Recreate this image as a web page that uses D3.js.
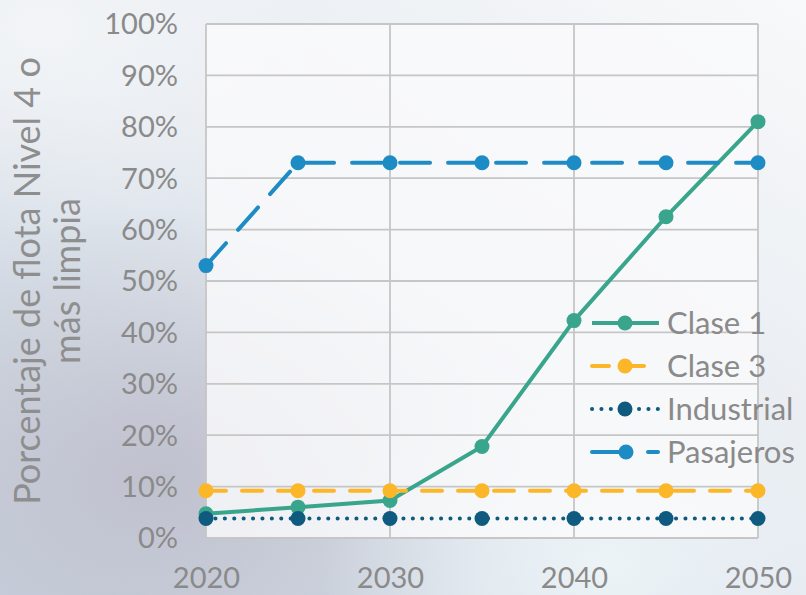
<!DOCTYPE html>
<html><head><meta charset="utf-8">
<script src="https://cdn.jsdelivr.net/npm/d3@7"></script>
<style>body{margin:0;overflow:hidden;}svg{display:block;}</style>
</head><body>
<svg id="c" width="806" height="595"></svg>
<script>
const years = [2020, 2025, 2030, 2035, 2040, 2045, 2050];
const clase1 = [4.7, 6, 7.3, 17.8, 42.3, 62.5, 81];
const clase3 = [9.2, 9.2, 9.2, 9.2, 9.2, 9.2, 9.2];
const industrial = [3.8, 3.8, 3.8, 3.8, 3.8, 3.8, 3.8];
const pasajeros = [53, 73, 73, 73, 73, 73, 73];
const seriesNames = ["Clase 1", "Clase 3", "Industrial", "Pasajeros"];
const yTicks = [0, 10, 20, 30, 40, 50, 60, 70, 80, 90, 100];
const xTicks = [2020, 2030, 2040, 2050];
const yTitle = ["Porcentaje de flota Nivel 4 o", "más limpia"];

const svg = d3.select("#c");
const defs = svg.append("defs");
const lg = defs.append("linearGradient").attr("id","bg").attr("x1","1").attr("y1","0").attr("x2","0.1").attr("y2","1");
lg.append("stop").attr("offset","0").attr("stop-color","#f8f9fa");
lg.append("stop").attr("offset","0.5").attr("stop-color","#e6ebf1");
lg.append("stop").attr("offset","1").attr("stop-color","#c9d2de");
const rg = defs.append("radialGradient").attr("id","bg2").attr("cx","0.2").attr("cy","0.8").attr("r","0.45");
rg.append("stop").attr("offset","0").attr("stop-color","#bdbecb").attr("stop-opacity","0.9");
rg.append("stop").attr("offset","1").attr("stop-color","#bdbecb").attr("stop-opacity","0");
const rg2 = defs.append("radialGradient").attr("id","bg3").attr("cx","0.75").attr("cy","0.95").attr("r","0.35");
rg2.append("stop").attr("offset","0").attr("stop-color","#eef5f8").attr("stop-opacity","0.9");
rg2.append("stop").attr("offset","1").attr("stop-color","#eef5f8").attr("stop-opacity","0");
const rg3 = defs.append("radialGradient").attr("id","bg4").attr("cx","0.05").attr("cy","0.05").attr("r","0.35");
rg3.append("stop").attr("offset","0").attr("stop-color","#f4f6f8").attr("stop-opacity","0.9");
rg3.append("stop").attr("offset","1").attr("stop-color","#f4f6f8").attr("stop-opacity","0");
svg.append("rect").attr("width",806).attr("height",595).attr("fill","url(#bg)");
svg.append("rect").attr("width",806).attr("height",595).attr("fill","url(#bg2)");
svg.append("rect").attr("width",806).attr("height",595).attr("fill","url(#bg3)");
svg.append("rect").attr("width",806).attr("height",595).attr("fill","url(#bg4)");

const x = d3.scaleLinear().domain([2020, 2050]).range([206, 758]);
const y = d3.scaleLinear().domain([0, 100]).range([538, 24]);

// plot area
svg.append("rect").attr("x", x(2020)).attr("y", y(100)).attr("width", x(2050)-x(2020)).attr("height", y(0)-y(100))
  .attr("fill", "#fafafb").attr("fill-opacity", 0.82);

const grid = svg.append("g").attr("stroke", "#c6c6c6").attr("stroke-width", 1.8);
grid.selectAll("line.h").data(yTicks).join("line").attr("class","h")
  .attr("x1", x(2020)).attr("x2", x(2050)).attr("y1", d=>y(d)).attr("y2", d=>y(d));
grid.selectAll("line.v").data(xTicks).join("line").attr("class","v")
  .attr("y1", y(0)).attr("y2", y(100)).attr("x1", d=>x(d)).attr("x2", d=>x(d));

const font = "Lato, 'Open Sans', sans-serif";
const axisColor = "#8a8a8a";
// y axis
const yAxis = d3.axisLeft(y).tickValues(yTicks).tickFormat(d=>d+"%").tickSize(0).tickPadding(0);
const ya = svg.append("g").attr("transform", "translate(178,0)").call(yAxis);
ya.select(".domain").remove();
ya.selectAll("text").attr("fill", axisColor).style("font-family", font).style("font-size", "29px").attr("dy","0.34em");
// x axis
const xAxis = d3.axisBottom(x).tickValues(xTicks).tickFormat(d3.format("d")).tickSize(0).tickPadding(0);
const xa = svg.append("g").attr("transform", "translate(0,588)").call(xAxis);
xa.select(".domain").remove();
xa.selectAll("text").attr("fill", axisColor).style("font-family", font).style("font-size", "29px").attr("dy","0");

// y title
const yt = svg.append("text").attr("transform", "translate(0,281) rotate(-90)")
  .attr("text-anchor","middle").attr("fill", "#8e8e8e").style("font-family", font).style("font-size", "36px");
yt.selectAll("tspan").data(yTitle).join("tspan").attr("x",0).attr("y",(d,i)=> i===0 ? 40 : 80).text(d=>d);

const series = [
  {name: seriesNames[0], values: clase1, color: "#39a58c", dash: null, w: 4},
  {name: seriesNames[1], values: clase3, color: "#fbb728", dash: "20,16", w: 4},
  {name: seriesNames[2], values: industrial, color: "#0f5b7f", dash: "0.1,9.3", w: 4},
  {name: seriesNames[3], values: pasajeros, color: "#1e8cc4", dash: "30,18", w: 4}
];
const line = d3.line().x((d,i)=>x(years[i])).y(d=>y(d));
const order = [0, 1, 2, 3];
order.forEach(k => {
  const s = series[k];
  const g = svg.append("g");
  g.append("path").attr("d", line(s.values)).attr("fill","none").attr("stroke", s.color)
    .attr("stroke-width", s.w).attr("stroke-dasharray", s.dash).attr("stroke-linecap","round");
  g.selectAll("circle").data(s.values).join("circle").attr("cx",(d,i)=>x(years[i])).attr("cy", d=>y(d))
    .attr("r", 7.5).attr("fill", s.color);
});

// legend
const leg = svg.append("g");
const legY = [323, 366, 409, 452];
series.forEach((s,i) => {
  const gy = legY[i];
  const g = leg.append("g");
  if (i === 0) {
    g.append("line").attr("x1",592).attr("x2",659).attr("y1",gy).attr("y2",gy).attr("stroke",s.color).attr("stroke-width",4);
  } else if (i === 1) {
    g.append("line").attr("x1",592).attr("x2",609).attr("y1",gy).attr("y2",gy).attr("stroke",s.color).attr("stroke-width",4).attr("stroke-linecap","round");
    g.append("line").attr("x1",620).attr("x2",644).attr("y1",gy).attr("y2",gy).attr("stroke",s.color).attr("stroke-width",4).attr("stroke-linecap","round");
  } else if (i === 2) {
    g.append("line").attr("x1",592).attr("x2",658).attr("y1",gy).attr("y2",gy).attr("stroke",s.color).attr("stroke-width",4)
      .attr("stroke-dasharray","0.1,9.3").attr("stroke-linecap","round");
  } else {
    g.append("line").attr("x1",592).attr("x2",626).attr("y1",gy).attr("y2",gy).attr("stroke",s.color).attr("stroke-width",4).attr("stroke-linecap","round");
    g.append("line").attr("x1",648).attr("x2",658).attr("y1",gy).attr("y2",gy).attr("stroke",s.color).attr("stroke-width",4).attr("stroke-linecap","round");
  }
  g.append("circle").attr("cx", i===3 ? 626 : 625).attr("cy", gy).attr("r", 7.5).attr("fill", s.color);
  g.append("text").attr("x", 667).attr("y", gy).attr("dy","0.34em").attr("fill", axisColor)
    .style("font-family", font).style("font-size","31px").text(s.name);
});
</script>
</body></html>
